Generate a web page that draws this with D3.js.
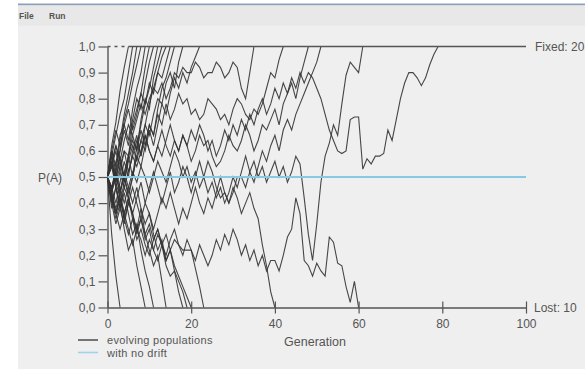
<!DOCTYPE html>
<html>
<head>
<meta charset="utf-8">
<script src="https://cdn.jsdelivr.net/npm/d3@7"></script>
<style>
  html, body { margin: 0; padding: 0; background: #fff; }
  svg { display: block; font-family: "Liberation Sans", Arial, sans-serif; }
</style>
</head>
<body>
<svg id="chart" width="585" height="369"></svg>
<script>
// Allele frequency P(A) per generation for 30 drifting populations.
// Each array runs from generation 0 until the allele is fixed (1) or lost (0).
const fix05 = [.5,.62,.71,.83,.92,1];
const fix06 = [.5,.58,.66,.74,.8,.9,1];
const fix07 = [.5,.6,.52,.64,.74,.82,.9,1];
const fix08 = [.5,.44,.56,.6,.72,.78,.86,.93,1];
const fix09 = [.5,.6,.54,.66,.7,.64,.76,.84,.9,1];
const fix10 = [.5,.38,.46,.52,.6,.58,.7,.76,.82,.92,1];
const fix11 = [.5,.56,.48,.6,.68,.62,.72,.8,.76,.86,.94,1];
const fix12 = [.5,.42,.36,.44,.52,.58,.5,.62,.7,.78,.84,.92,1];
const fix13 = [.5,.54,.62,.56,.48,.58,.66,.6,.72,.8,.76,.88,.94,1];
const fix14 = [.5,.46,.4,.48,.56,.5,.6,.66,.58,.7,.78,.84,.9,.96,1];
const fix15 = [.5,.6,.68,.62,.7,.76,.68,.74,.82,.78,.86,.82,.9,.88,.94,1];
const fix16 = [.5,.4,.32,.38,.46,.42,.5,.58,.54,.62,.7,.66,.76,.84,.88,.94,1];
const fix18 = [.5,.54,.46,.4,.48,.56,.62,.56,.64,.7,.66,.74,.8,.78,.86,.9,.84,.94,1];
const fix22 = [.5,.44,.52,.58,.5,.44,.5,.58,.64,.6,.68,.62,.7,.78,.74,.82,.88,.84,.9,.86,.92,.96,1];
const fix35 = [.5,.56,.62,.56,.64,.7,.66,.72,.78,.74, .8,.84,.82,.86,.8,.84,.9,.88,.92,.9,
               .9,.94,.92,.88,.9,.9,.94,.92,.88,.9, .94,.92,.84,.8,.9,1];
const fix42 = [.5,.44,.5,.56,.5,.58,.64,.6,.68,.62, .7,.66,.74,.7,.78,.72,.76,.82,.78,.8,
               .74,.76,.72,.74,.8,.78,.76,.72,.74,.7, .76,.8,.78,.74,.72,.76,.74,.78,.84,.9,
               .88,.95,1];
const fix48 = [.5,.56,.48,.54,.6,.52,.58,.64,.58,.66, .6,.56,.62,.68,.62,.58,.64,.6,.66,.62,
               .56,.6,.66,.62,.64,.58,.54,.56,.6,.66, .62,.6,.64,.7,.66,.6,.64,.7,.68,.72,
               .76,.7,.78,.82,.86,.8,.88,.94,1];
const fix51 = [.5,.46,.52,.46,.4,.46,.52,.48,.54,.5, .44,.5,.56,.52,.48,.54,.6,.56,.5,.54,
               .48,.52,.46,.5,.56,.52,.46,.42,.44,.4, .44,.5,.5,.46,.52,.48,.54,.6,.56,.62,
               .66,.6,.68,.72,.68,.74,.78,.82,.86,.9, .94,1];
const fix61 = [.5,.44,.38,.44,.5,.42,.36,.42,.48,.4, .46,.52,.46,.4,.46,.52,.44,.48,.54,.5,
               .44,.5,.56,.5,.44,.48,.42,.46,.4,.44, .5,.46,.52,.58,.52,.56,.5,.54,.48,.52,
               .56,.5,.54,.48,.52,.58,.55,.42,.28,.18, .32,.48,.58,.63,.7,.66,.78,.89,.94,.92,
               .9,1];
const fix79 = [.5,.54,.6,.52,.46,.52,.58,.54,.6,.66, .6,.56,.62,.58,.64,.7,.64,.6,.66,.62,
               .68,.64,.7,.66,.6,.64,.58,.62,.68,.64, .7,.66,.72,.68,.74,.7,.76,.8,.74,.78,
               .84,.8,.86,.82,.88,.84,.9,.86,.9,.88, .84,.8,.74,.68,.64,.6,.59,.6,.72,.73,
               .73,.53,.57,.55,.58,.58,.59,.68,.64,.72, .8,.86,.9,.9,.88,.85,.88,.93,.97,1];
const lost03 = [.5,.28,.12,0];
const lost09 = [.5,.42,.34,.4,.3,.22,.26,.16,.08,0];
const lost11 = [.5,.56,.46,.38,.44,.36,.28,.32,.22,.14,.08,0];
const lost14 = [.5,.46,.52,.44,.36,.42,.34,.3,.38,.28,.22,.16,.2,.1,0];
const lost18 = [.5,.4,.46,.38,.32,.4,.36,.28,.34,.26,.3,.22,.18,.24,.16,.12,.14,.06,0];
const lost19 = [.5,.58,.5,.44,.52,.46,.4,.46,.38,.32,.36,.28,.22,.26,.18,.22,.14,.1,.06,0];
const lost20 = [.5,.44,.36,.42,.34,.28,.34,.26,.3,.24,.2,.26,.3,.24,.18,.22,.16,.12,.08,.04,0];
const lost23 = [.5,.56,.48,.42,.36,.42,.36,.3,.34,.28,.32,.26,.3,.24,.28,.22,.26,.24,.22,.22,.22,.15,.08,0];
const lost40 = [.5,.44,.36,.42,.34,.4,.46,.4,.34,.4, .36,.3,.36,.42,.38,.44,.38,.32,.38,.34,
                .4,.46,.4,.36,.42,.38,.44,.5,.44,.4, .46,.42,.36,.4,.44,.38,.34,.24,.16,.06, 0];
const lost60 = [.5,.42,.36,.3,.36,.3,.24,.3,.26,.2, .26,.22,.28,.24,.2,.26,.3,.24,.2,.26,
                .22,.18,.24,.2,.16,.2,.26,.22,.28,.24, .3,.26,.2,.24,.18,.22,.16,.2,.14,.18,
                .18,.14,.2,.27,.3,.42,.36,.18,.16,.12, .17,.14,.12,.27,.25,.17,.16,.08,.02,.1, 0];

const populations = [fix05, fix06, fix07, fix08, fix09, fix10, fix11, fix12, fix13, fix14,
  fix15, fix16, fix18, fix22, fix35, fix42, fix48, fix51, fix61, fix79,
  lost03, lost09, lost11, lost14, lost18, lost19, lost20, lost23, lost40, lost60];

const noDrift = 0.5;
const xTicks = [0, 20, 40, 60, 80, 100];
const yTicks = [0, .1, .2, .3, .4, .5, .6, .7, .8, .9, 1];
const menuItems = ["File", "Run"];
const legendItems = ["evolving populations", "with no drift"];

const svg = d3.select("#chart");
const W = 585, H = 369;
const ink = "#555";
const fontSize = 12;

// window chrome: white margin, thin title border, menu bar
svg.append("rect").attr("width", W).attr("height", H).attr("fill", "#ffffff");
svg.append("rect").attr("x", 18).attr("y", 6).attr("width", W - 18).attr("height", H - 6).attr("fill", "#efefef");
svg.append("rect").attr("x", 18).attr("y", 3.5).attr("width", W - 18).attr("height", 2).attr("fill", "#8d9fbb");
svg.append("rect").attr("x", 18).attr("y", 5.5).attr("width", W - 18).attr("height", 20).attr("fill", "#e8e8e8");
svg.selectAll("text.menu").data(menuItems).join("text")
  .attr("class", "menu")
  .attr("x", (d, i) => [19, 49][i]).attr("y", 19)
  .attr("font-size", 8.5).attr("font-weight", "bold").attr("fill", "#555")
  .text(d => d);

const x = d3.scaleLinear().domain([0, 100]).range([107.5, 526]);
const y = d3.scaleLinear().domain([0, 1]).range([307.5, 46.5]);

const fmt = d => d3.format(".1f")(d).replace(".", ",");

// y axis
const yAxis = svg.append("g").attr("transform", `translate(${x(0)},0)`)
  .call(d3.axisLeft(y).tickValues(yTicks).tickFormat(fmt).tickSize(9).tickSizeOuter(0).tickPadding(3));
yAxis.select(".domain").attr("stroke", ink).attr("stroke-width", 1.4);
yAxis.selectAll(".tick line").attr("stroke", ink).attr("stroke-width", 1.2);
yAxis.selectAll(".tick text").attr("fill", ink).attr("font-size", fontSize)
  .attr("font-family", "Liberation Sans, Arial, sans-serif");

svg.append("text").attr("x", 38).attr("y", y(noDrift) + 4.5)
  .attr("font-size", fontSize).attr("fill", ink).text("P(A)");

// trajectories
const line = d3.line().x((d, i) => x(i)).y(d => y(d));
svg.append("g").selectAll("path").data(populations).join("path")
  .attr("d", line)
  .attr("fill", "none")
  .attr("stroke", "#333")
  .attr("stroke-width", 1.1)
  .attr("stroke-opacity", 0.9);

// fixation line at P = 1
const firstFix = d3.min(populations.filter(p => p[p.length - 1] === 1), p => p.length - 1);
svg.append("line").attr("x1", x(0)).attr("x2", x(firstFix)).attr("y1", y(1)).attr("y2", y(1))
  .attr("stroke", ink).attr("stroke-width", 1.4).attr("stroke-dasharray", "3,4");
svg.append("line").attr("x1", x(firstFix)).attr("x2", x(100)).attr("y1", y(1)).attr("y2", y(1))
  .attr("stroke", ink).attr("stroke-width", 1.4);

// x axis along P = 0
const xAxis = svg.append("g").attr("transform", `translate(0,${y(0)})`)
  .call(d3.axisBottom(x).tickValues(xTicks).tickFormat(d3.format("d")).tickSize(6).tickSizeOuter(0).tickPadding(6));
xAxis.select(".domain").attr("stroke", ink).attr("stroke-width", 1.4);
xAxis.selectAll(".tick line").attr("y1", -6).attr("y2", 6).attr("stroke", ink).attr("stroke-width", 1.2);
xAxis.selectAll(".tick text").attr("fill", ink).attr("font-size", fontSize)
  .attr("font-family", "Liberation Sans, Arial, sans-serif");

// no-drift reference
svg.append("line").attr("x1", x(0)).attr("x2", x(100)).attr("y1", y(noDrift)).attr("y2", y(noDrift))
  .attr("stroke", "#86c9e2").attr("stroke-width", 2);

// end counts
const nFixed = populations.filter(p => p[p.length - 1] === 1).length;
const nLost = populations.filter(p => p[p.length - 1] === 0).length;
svg.append("text").attr("x", x(100) + 9).attr("y", y(1) + 4.5)
  .attr("font-size", fontSize).attr("fill", ink).text(`Fixed: ${nFixed}`);
svg.append("text").attr("x", x(100) + 8).attr("y", y(0) + 4.5)
  .attr("font-size", fontSize).attr("fill", ink).text(`Lost: ${nLost}`);

svg.append("text").attr("x", 315).attr("y", 345.5).attr("text-anchor", "middle")
  .attr("font-size", fontSize + 0.5).attr("fill", ink).text("Generation");

// legend
const legendColors = ["#555", "#9fd3ea"];
const lg = svg.append("g").selectAll("g").data(legendItems).join("g")
  .attr("transform", (d, i) => `translate(78,${340 + i * 12.5})`);
lg.append("line").attr("x1", 0).attr("x2", 20).attr("stroke", (d, i) => legendColors[i]).attr("stroke-width", 1.6);
lg.append("text").attr("x", 29).attr("y", 4).attr("font-size", 11)
  .attr("letter-spacing", 0.3).attr("fill", ink).text(d => d);
</script>
</body>
</html>
